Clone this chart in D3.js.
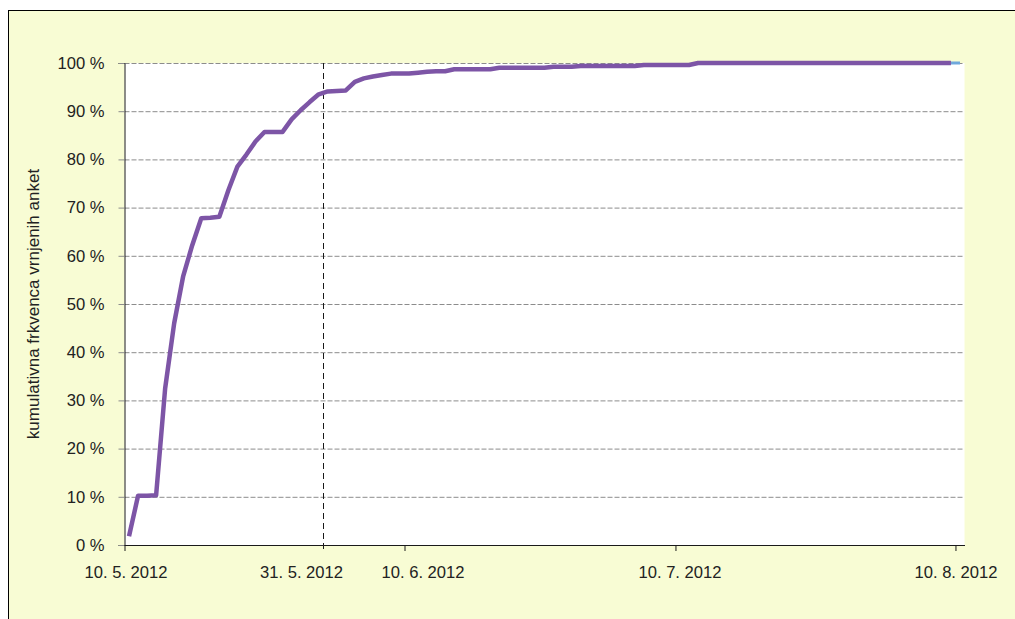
<!DOCTYPE html>
<html>
<head>
<meta charset="utf-8">
<script src="https://cdnjs.cloudflare.com/ajax/libs/d3/7.8.5/d3.min.js"></script>
<style>
    body { margin: 0; background: #fff; }
    text { font-family: "Liberation Sans", Arial, sans-serif; fill: #222; }
</style>
</head>
<body>
<svg id="chart" width="1015" height="619"></svg>
<script>
// one value per day, starting 10. 5. 2012 (cumulative share of returned surveys, %)
var startDate = '2012-05-10';
var cumulative = [
    1.8, 10.2, 10.2, 10.3, 32.5, 46.0, 55.8, 62.2, 67.8, 67.9,
    68.1, 73.6, 78.5, 81.0, 83.7, 85.7, 85.7, 85.7, 88.3, 90.2,
    91.9, 93.5, 94.1, 94.2, 94.3, 96.1, 96.8, 97.2, 97.5, 97.8,
    97.8, 97.8, 98.0, 98.2, 98.3, 98.3, 98.7, 98.7, 98.7, 98.7,
    98.7, 99.0, 99.0, 99.0, 99.0, 99.0, 99.0, 99.2, 99.2, 99.2,
    99.4, 99.4, 99.4, 99.4, 99.4, 99.4, 99.4, 99.6, 99.6, 99.6,
    99.6, 99.6, 99.6, 100, 100, 100, 100, 100, 100, 100,
    100, 100, 100, 100, 100, 100, 100, 100, 100, 100,
    100, 100, 100, 100, 100, 100, 100, 100, 100, 100,
    100, 100
];
// second series, only its last day shows beyond the purple one
var allDates = ['2012-08-09', '2012-08-10'];
var allValues = [100, 100];

var yTicks = [0, 10, 20, 30, 40, 50, 60, 70, 80, 90, 100];
var xTickDates = ['2012-05-10', '2012-06-10', '2012-07-10', '2012-08-10'];
var xTickLabels = ['10. 5. 2012', '10. 6. 2012', '10. 7. 2012', '10. 8. 2012'];
var markerDate = '2012-06-01';
var markerLabel = '31. 5. 2012';
var yTitle = 'kumulativna frkvenca vrnjenih anket';

var parse = d3.timeParse('%Y-%m-%d');
var start = parse(startDate);
var days = cumulative.map(function(v, i) { return d3.timeDay.offset(start, i); });
var data = days.map(function(d, i) { return { date: d, value: cumulative[i] }; });
var data2 = allDates.map(function(d, i) { return { date: parse(d), value: allValues[i] }; });

var W = 1015, H = 619;
var plot = { left: 124.5, top: 63, right: 964.5, bottom: 545 };
var fontSize = 16.6;

var svg = d3.select('#chart');

// chart area background and frame
svg.append('rect')
    .attr('x', 8.5).attr('y', 10.5)
    .attr('width', W + 20).attr('height', H + 20)
    .attr('fill', '#f8fcd4')
    .attr('stroke', '#000');

svg.append('rect')
    .attr('x', plot.left).attr('y', plot.top)
    .attr('width', plot.right - plot.left).attr('height', plot.bottom - plot.top)
    .attr('fill', '#fff');

var x = d3.scaleTime()
    .domain([start, d3.timeDay.offset(start, 93)])
    .range([plot.left, plot.right]);

var y = d3.scaleLinear()
    .domain([0, 100])
    .range([plot.bottom, plot.top]);

// points sit in the middle of their day
function xPos(d) { return x(d3.timeHour.offset(d.date, 12)); }

// horizontal grid
svg.append('g')
    .selectAll('line')
    .data(yTicks.filter(function(t) { return t > 0; }))
    .enter().append('line')
    .attr('x1', plot.left).attr('x2', plot.right)
    .attr('y1', function(d) { return y(d) + 0.5; })
    .attr('y2', function(d) { return y(d) + 0.5; })
    .attr('stroke', '#8c8c8c')
    .attr('stroke-dasharray', '5,2');

// y axis
var yAxis = d3.axisLeft(y)
    .tickValues(yTicks)
    .tickSize(6)
    .tickPadding(14)
    .tickFormat(function(d) { return d + ' %'; });

svg.append('g')
    .attr('transform', 'translate(' + plot.left + ',0)')
    .call(yAxis)
    .call(function(g) {
        g.select('.domain').attr('stroke', '#1a1a1a');
        g.selectAll('.tick line').attr('stroke', '#8c8c8c');
        g.selectAll('.tick text')
            .attr('font-size', fontSize)
            .attr('fill', '#222')
            .style('font-family', '"Liberation Sans", Arial, sans-serif');
    });

// x axis
var xAxis = d3.axisBottom(x)
    .tickValues(xTickDates.map(parse))
    .tickSize(6)
    .tickSizeOuter(0)
    .tickFormat(function(d, i) { return xTickLabels[i]; });

// labels in the original are nudged a little off their ticks
var labelNudge = [1, 18, 4, 0];

svg.append('g')
    .attr('transform', 'translate(0,' + plot.bottom + ')')
    .call(xAxis)
    .call(function(g) {
        g.select('.domain').attr('stroke', '#1a1a1a');
        g.selectAll('.tick line').attr('stroke', '#1a1a1a');
        g.selectAll('.tick text')
            .attr('font-size', fontSize)
            .attr('y', 21)
            .attr('fill', '#222')
            .attr('dx', function(d, i) { return labelNudge[i]; })
            .style('font-family', '"Liberation Sans", Arial, sans-serif');
    });

// dashed marker line
var mx = Math.round(x(parse(markerDate))) + 0.5;
svg.append('line')
    .attr('x1', mx).attr('x2', mx)
    .attr('y1', plot.top).attr('y2', plot.bottom + 5)
    .attr('stroke', '#1a1a1a')
    .attr('stroke-dasharray', '6,4');

svg.append('text')
    .attr('x', mx - 22)
    .attr('y', plot.bottom + 21)
    .attr('dy', '0.71em')
    .attr('text-anchor', 'middle')
    .attr('font-size', fontSize)
    .text(markerLabel);

// series
var line = d3.line()
    .x(xPos)
    .y(function(d) { return y(d.value); });

svg.append('path')
    .datum(data2)
    .attr('d', line)
    .attr('fill', 'none')
    .attr('stroke', '#6fa8dc')
    .attr('stroke-width', 3);

svg.append('path')
    .datum(data)
    .attr('d', line)
    .attr('fill', 'none')
    .attr('stroke', '#7d55a6')
    .attr('stroke-width', 4.5)
    .attr('stroke-linejoin', 'round');

// y title, centred on the plot
svg.append('text')
    .attr('transform', 'translate(39,' + (plot.top + plot.bottom) / 2 + ') rotate(-90)')
    .attr('text-anchor', 'middle')
    .attr('font-size', 17)
    .text(yTitle);
</script>
</body>
</html>
